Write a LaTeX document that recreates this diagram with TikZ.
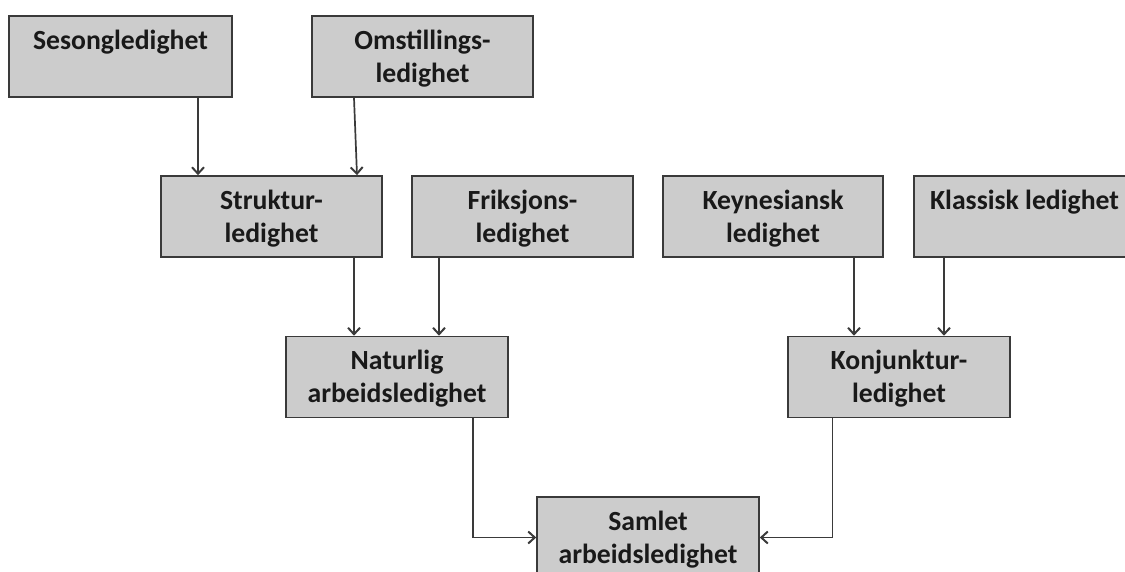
\documentclass[tikz,border=0pt]{standalone}
\usepackage{fontspec}
\setmainfont{Carlito}
\usetikzlibrary{arrows.meta,calc}
\definecolor{boxfill}{HTML}{CCCCCC}
\definecolor{boxline}{HTML}{3A3A3A}
\definecolor{arrline}{HTML}{3A3A3A}
\newcommand\bxs{\rule[-6pt]{0pt}{30pt}}
\tikzset{
  ubox/.style={draw=boxline, fill=boxfill, line width=1.6pt, rectangle,
    minimum width=221pt, minimum height=81pt, inner sep=0pt, align=center,
    text=black!90, font=\bfseries\fontsize{27.7pt}{33pt}\selectfont},
  arr/.style={draw=arrline, line width=1.7pt, -{Straight Barb[length=6.5pt,width=12pt,line width=2pt]}}
}
\begin{document}
\begin{tikzpicture}[x=1pt,y=-1pt]
\useasboundingbox (0,0) rectangle (1125,571);
\clip (0,0) rectangle (1125,571);
% row 1
\node[ubox, minimum width=223pt] (ses) at (120.5,56.5) {Sesongledighet\bxs\\\bxs};
\node[ubox] (oms) at (422.5,56.5) {Omstillings-\bxs\\ledighet\bxs};
% row 2
\node[ubox] (str) at (271.5,216.5) {Struktur-\bxs\\ledighet\bxs};
\node[ubox] (fri) at (522.5,216.5) {Friksjons-\bxs\\ledighet\bxs};
\node[ubox, minimum width=220pt] (key) at (773,216.5) {Keynesiansk\bxs\\ledighet\bxs};
\node[ubox] (kla) at (1024.5,216.5) {Klassisk ledighet\bxs\\\bxs};
% row 3
\node[ubox, minimum width=222pt] (nat) at (397,377) {Naturlig\bxs\\arbeidsledighet\bxs};
\node[ubox, minimum width=222pt] (kon) at (899,377) {Konjunktur-\bxs\\ledighet\bxs};
% row 4
\node[ubox, minimum width=222pt] (sam) at (648,537.5) {Samlet\bxs\\arbeidsledighet\bxs};
% connectors
\draw[arr] (ses.south -| 198,0) -- (str.north -| 198,0);
\draw[arr] (oms.south -| 354,0) -- (str.north -| 357,0);
\draw[arr] (str.south -| 354,0) -- (nat.north -| 354,0);
\draw[arr] (fri.south -| 439,0) -- (nat.north -| 439,0);
\draw[arr] (key.south -| 854,0) -- (kon.north -| 854,0);
\draw[arr] (kla.south -| 944,0) -- (kon.north -| 944,0);
\draw[arr] (nat.south -| 473,0) |- (sam.west);
\draw[arr] (kon.south -| 832.5,0) |- (sam.east);
\end{tikzpicture}
\end{document}
